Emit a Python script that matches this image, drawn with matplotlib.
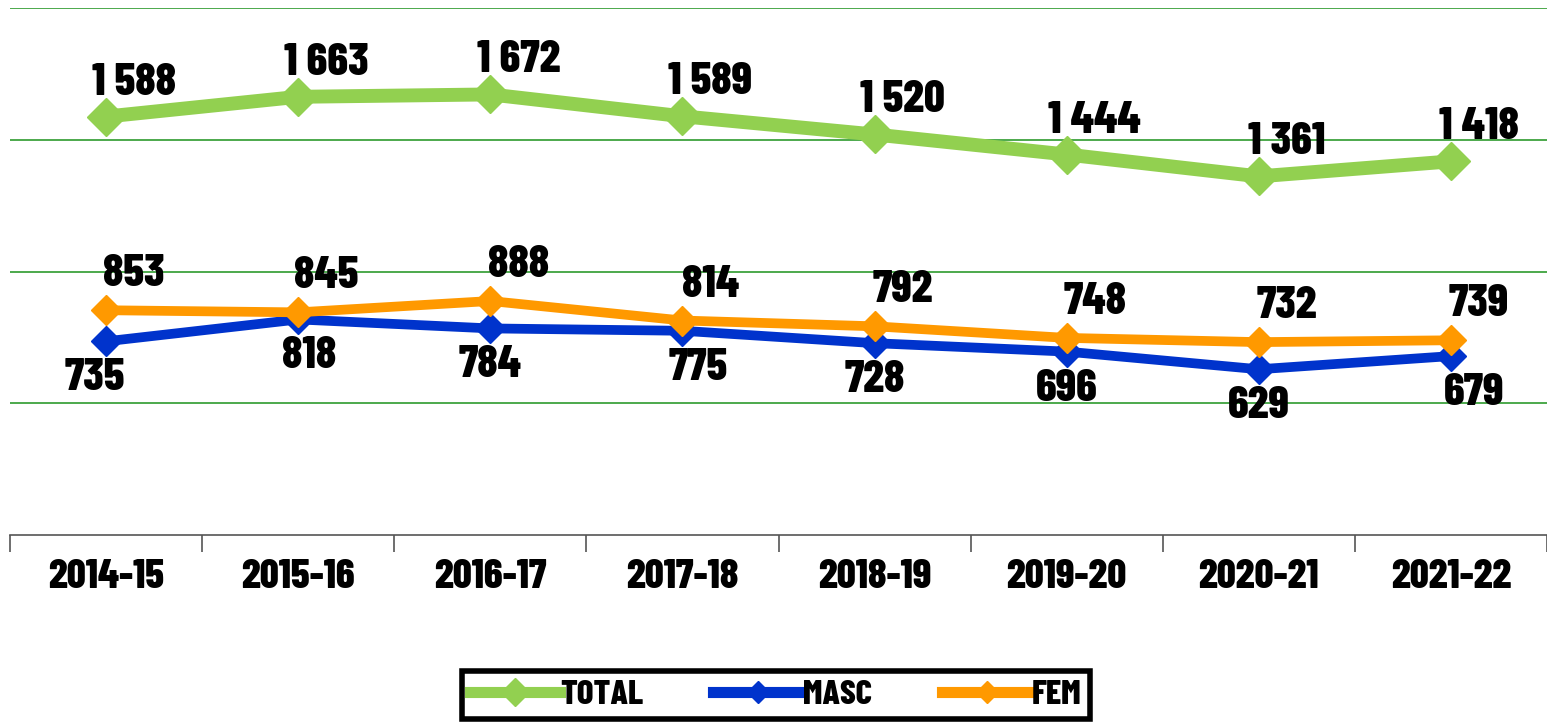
import matplotlib.pyplot as plt
from matplotlib import font_manager

names = {f.name for f in font_manager.fontManager.ttflist}
font = 'Barlow Condensed' if 'Barlow Condensed' in names else 'DejaVu Sans'
plt.rcParams['font.family'] = [font, 'DejaVu Sans']

years = ['2014-15', '2015-16', '2016-17', '2017-18', '2018-19', '2019-20', '2020-21', '2021-22']
total = [1588, 1663, 1672, 1589, 1520, 1444, 1361, 1418]
masc = [735, 818, 784, 775, 728, 696, 629, 679]
fem = [853, 845, 888, 814, 792, 748, 732, 739]

def fmt(v):
    return f'{v:,}'.replace(',', ' ')

fig = plt.figure(figsize=(15.47, 7.24), dpi=100)
ax = fig.add_axes([10 / 1547, 1 - 535 / 724, 1 - 10 / 1547, (535 - 8) / 724])

x = range(len(years))
ax.plot(x, total, color='#92D050', lw=10, marker='D', ms=19, label='TOTAL', zorder=4)
ax.plot(x, masc, color='#0033CC', lw=7, marker='D', ms=15, label='MASC', zorder=3)
ax.plot(x, fem, color='#FF9900', lw=7, marker='D', ms=15, label='FEM', zorder=4)

px = 72 / 100  # points per pixel
lab = dict(fontsize=33, fontweight=800, ha='center', textcoords='offset points')
for i, v in enumerate(total):
    ax.annotate(fmt(v), (i, v), xytext=(28 * px, 22 * px), va='baseline', **lab)
for i, v in enumerate(fem):
    ax.annotate(fmt(v), (i, v), xytext=(28 * px, 24 * px), va='baseline', **lab)
masc_dx = [-11, 11, 0, 16, 0, 0, 0, 23]
for i, v in enumerate(masc):
    ax.annotate(fmt(v), (i, v), xytext=(masc_dx[i] * px, -17 * px), va='top', **lab)

ax.set_xlim(-0.5, 7.5)
ax.set_ylim(0, 2000)
ax.set_yticks([500, 1000, 1500, 2000])
ax.yaxis.grid(True, color='#2E9B2E', lw=1.2)
ax.tick_params(axis='y', left=False, labelleft=False)
ax.set_xticks([i - 0.5 for i in range(9)])
ax.set_xticklabels([])
ax.set_xticks(list(x), minor=True)
ax.set_xticklabels(years, minor=True, fontsize=30, fontweight=800)
ax.tick_params(axis='x', which='major', direction='out', length=12, color='#555555', width=1.2)
ax.tick_params(axis='x', which='minor', length=0, pad=17)
for s in ['left', 'right', 'top']:
    ax.spines[s].set_visible(False)
ax.spines['bottom'].set_color('#555555')
ax.spines['bottom'].set_linewidth(1.2)
ax.set_axisbelow(True)

leg = fig.legend(loc='center', bbox_to_anchor=(776 / 1547, 1 - 695 / 724), ncol=3,
                 prop={'family': font, 'weight': 800, 'size': 25},
                 frameon=True, fancybox=False, edgecolor='black', framealpha=1,
                 handlelength=2.6, columnspacing=2.0, handletextpad=0.0,
                 borderpad=0.25, borderaxespad=0, markerscale=0.75)
leg.get_frame().set_linewidth(4)
for h in leg.legend_handles:
    h.set_linewidth(8)

fig.savefig('out.png', dpi=100)
